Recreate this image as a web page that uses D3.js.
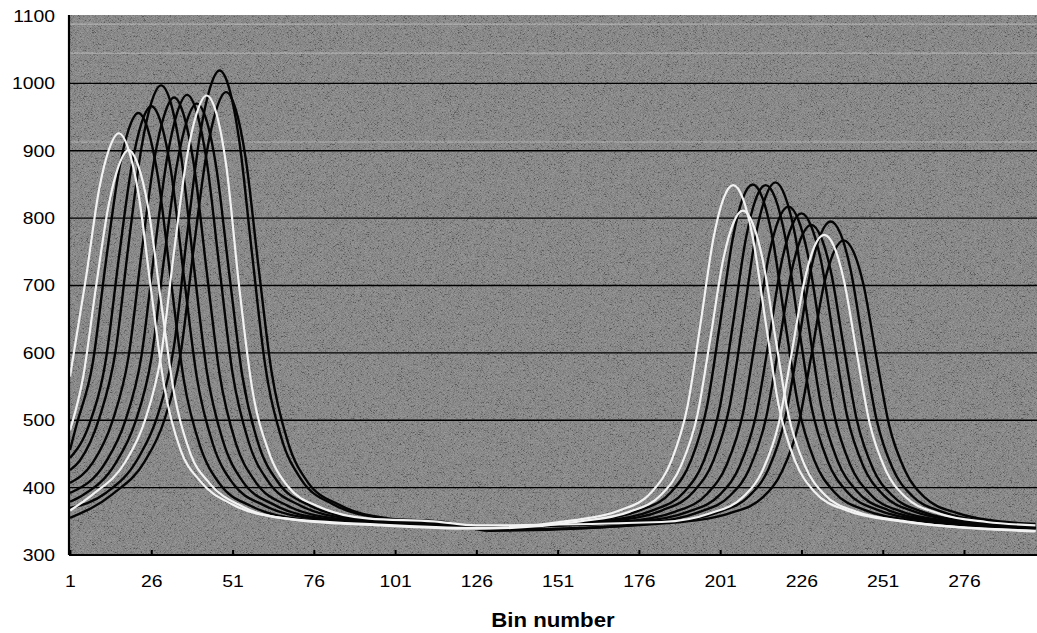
<!DOCTYPE html>
<html>
<head>
<meta charset="utf-8">
<script src="https://cdn.jsdelivr.net/npm/d3@7"></script>
<style>
  body { margin: 0; background: #fff; }
  svg { display: block; font-family: "Liberation Sans", Arial, sans-serif; }
</style>
</head>
<body>
<div id="chart"></div>
<script>
// axis ticks
var xTicks = [1, 26, 51, 76, 101, 126, 151, 176, 201, 226, 251, 276];
var yTicks = [300, 400, 500, 600, 700, 800, 900, 1000, 1100];
// light scanner streaks across the plot (y units)
var streaks = [1088, 1045, 913];

// spectra, [bin, counts]
var w1 = [[1,565],[6,714],[10,844],[13,902],[16,926],[19,902],[22,838],[26,691],[30,550],[35,456],[41,410],[51,375],[66,355],[96,345],[126,340],[155,351],[170,366],[180,394],[186,440],[191,522],[195,645],[199,772],[202,829],[205,849],[208,829],[211,772],[215,645],[219,522],[224,440],[230,394],[240,366],[255,351],[298,336]];
var w2 = [[1,485],[5,563],[9,698],[13,822],[16,878],[19,901],[22,878],[25,817],[29,676],[33,541],[38,451],[44,406],[54,372],[69,353],[96,344],[126,339],[158,350],[173,364],[183,390],[189,433],[194,508],[198,622],[202,740],[205,792],[208,811],[211,792],[214,740],[218,622],[222,508],[227,433],[233,390],[243,364],[258,350],[298,335]];
var b1 = [[1,456],[3,493],[8,585],[12,734],[16,869],[19,931],[22,956],[25,931],[28,863],[32,709],[36,560],[41,462],[47,406],[57,372],[72,353],[96,347],[126,340],[161,351],[176,366],[186,394],[192,440],[197,522],[201,645],[205,773],[208,830],[211,850],[214,830],[217,773],[221,645],[225,522],[230,440],[236,394],[246,366],[261,351],[298,339]];
var b2 = [[1,444],[7,495],[12,589],[16,740],[20,878],[23,941],[26,966],[29,941],[32,872],[36,715],[40,564],[45,464],[51,407],[61,373],[76,354],[100,346],[126,340],[165,351],[180,366],[190,394],[196,440],[201,522],[205,645],[209,772],[212,829],[215,849],[218,829],[221,772],[225,645],[229,522],[234,440],[240,394],[250,366],[265,351],[298,340]];
var b3 = [[1,426],[4,440],[10,503],[15,602],[19,760],[23,905],[26,971],[29,997],[32,971],[35,898],[39,733],[43,575],[48,470],[54,410],[64,374],[79,354],[100,347],[126,340],[168,351],[183,366],[193,395],[199,441],[204,523],[208,647],[212,776],[215,832],[218,853],[221,832],[224,776],[228,647],[232,523],[237,441],[243,395],[253,366],[268,351],[298,341]];
var b4 = [[1,407],[8,437],[14,498],[19,594],[23,748],[27,889],[30,953],[33,979],[36,953],[39,883],[43,723],[47,569],[52,466],[58,409],[68,373],[83,354],[104,347],[126,341],[172,350],[187,364],[197,391],[203,434],[208,510],[212,625],[216,745],[219,798],[222,817],[225,798],[228,745],[232,625],[236,510],[241,434],[247,391],[257,364],[272,350],[298,341]];
var b5 = [[1,392],[12,438],[18,499],[23,596],[27,751],[31,893],[34,957],[37,983],[40,957],[43,886],[47,725],[51,570],[56,467],[62,409],[72,373],[87,354],[108,347],[126,342],[176,350],[191,364],[201,390],[207,432],[212,507],[216,619],[220,737],[223,788],[226,807],[229,788],[232,737],[236,619],[240,507],[245,432],[251,390],[261,364],[276,350],[298,342]];
var b6 = [[1,379],[5,389],[15,436],[21,496],[26,591],[30,742],[34,882],[37,945],[40,970],[43,945],[46,875],[50,717],[54,566],[59,464],[65,408],[75,373],[90,354],[110,347],[126,342],[179,349],[194,363],[204,388],[210,428],[215,501],[219,609],[223,722],[226,772],[229,790],[232,772],[235,722],[239,609],[243,501],[248,428],[254,388],[264,363],[279,349],[298,343]];
var w3 = [[1,366],[8,390],[18,438],[24,499],[29,596],[33,750],[37,892],[40,956],[43,982],[46,956],[49,880],[53,700],[57,548],[62,455],[68,402],[78,371],[93,354],[113,350],[126,344],[183,349],[198,362],[208,386],[214,425],[219,495],[223,600],[227,709],[230,758],[233,775],[236,758],[239,709],[243,600],[247,495],[252,425],[258,386],[268,362],[283,349],[298,344]];
var b7 = [[1,370],[12,392],[22,444],[28,508],[33,610],[37,774],[41,924],[44,992],[47,1019],[50,992],[53,917],[57,747],[61,583],[66,474],[72,413],[82,375],[97,355],[116,349],[130,336],[185,349],[200,363],[210,388],[216,429],[221,503],[225,612],[229,726],[232,777],[235,795],[238,777],[241,726],[245,612],[249,503],[254,429],[260,388],[270,363],[285,349],[298,345]];
var b8 = [[1,355],[14,390],[24,439],[30,500],[35,598],[39,753],[43,896],[46,961],[49,987],[52,961],[55,890],[59,727],[63,572],[68,468],[74,409],[84,374],[99,354],[118,346],[135,338],[189,349],[204,362],[214,385],[220,424],[225,492],[229,595],[233,703],[236,750],[239,767],[242,750],[245,703],[249,595],[253,492],[258,424],[264,385],[274,362],[289,349],[298,346]];

var spectra = [w1, w2, b1, b2, b3, b4, b5, b6, w3, b7, b8];
var tones = ['light', 'light', 'dark', 'dark', 'dark', 'dark', 'dark', 'dark', 'light', 'dark', 'dark'];

var width = 1037, height = 633;
var plot = { left: 69, right: 1037, top: 15, bottom: 555 };
var stretch = 1.14; // scanned lettering is wider than Arial

var svg = d3.select('#chart')
  .append('svg')
  .attr('width', width)
  .attr('height', height);

// scales, calibrated on the tick labels
var x = d3.scaleLinear().domain([1, 276]).range([70, 964]);
var y = d3.scaleLinear().domain([300, 1100]).range([555, 16]);

//grain filter for the scanned grey
var defs = svg.append('defs');
var grain = defs.append('filter')
  .attr('id', 'grain')
  .attr('x', 0).attr('y', 0).attr('width', '100%').attr('height', '100%');
grain.append('feTurbulence')
  .attr('type', 'fractalNoise')
  .attr('baseFrequency', '0.7 1.5')
  .attr('numOctaves', 2)
  .attr('seed', 7)
  .attr('result', 'noise');
grain.append('feColorMatrix')
  .attr('type', 'matrix')
  .attr('values', '1 0 0 0 0  1 0 0 0 0  1 0 0 0 0  0 0 0 0 1');
var ct = grain.append('feComponentTransfer');
['feFuncR', 'feFuncG', 'feFuncB'].forEach(function (f) {
  ct.append(f).attr('type', 'linear').attr('slope', 2).attr('intercept', -0.5);
});

defs.append('clipPath')
  .attr('id', 'plot-clip')
  .append('rect')
  .attr('x', plot.left)
  .attr('y', plot.top)
  .attr('width', plot.right - plot.left)
  .attr('height', plot.bottom - plot.top);

//background
svg.append('rect')
  .attr('x', plot.left)
  .attr('y', plot.top)
  .attr('width', plot.right - plot.left)
  .attr('height', plot.bottom - plot.top)
  .attr('fill', '#787878');
svg.append('rect')
  .attr('x', plot.left)
  .attr('y', plot.top)
  .attr('width', plot.right - plot.left)
  .attr('height', plot.bottom - plot.top)
  .attr('filter', 'url(#grain)')
  .attr('opacity', 0.25);

// streaks
svg.append('g')
  .selectAll('line')
  .data(streaks)
  .enter()
  .append('line')
  .attr('x1', plot.left)
  .attr('x2', plot.right)
  .attr('y1', function (d) { return y(d); })
  .attr('y2', function (d) { return y(d); })
  .attr('stroke', '#d8d8d8')
  .attr('stroke-opacity', 0.5)
  .attr('stroke-width', 1.2);

//gridlines
svg.append('g')
  .selectAll('line')
  .data(yTicks.filter(function (d) { return d > 300 && d < 1100; }))
  .enter()
  .append('line')
  .attr('x1', plot.left)
  .attr('x2', plot.right)
  .attr('y1', function (d) { return y(d); })
  .attr('y2', function (d) { return y(d); })
  .attr('stroke', '#000')
  .attr('stroke-width', 1.4);

//lines
var line = d3.line()
  .x(function (d) { return x(d[0]); })
  .y(function (d) { return y(d[1]); })
  .curve(d3.curveMonotoneX);

var order = d3.range(spectra.length).sort(function (a, b) {
  return (tones[a] === 'light') - (tones[b] === 'light');
});

svg.append('g')
  .attr('class', 'spectra')
  .attr('clip-path', 'url(#plot-clip)')
  .selectAll('path')
  .data(order)
  .enter()
  .append('path')
  .attr('d', function (i) { return line(spectra[i]); })
  .attr('fill', 'none')
  .attr('stroke', function (i) { return tones[i] === 'light' ? '#f2f2f2' : '#050505'; })
  .attr('stroke-width', function (i) { return tones[i] === 'light' ? 2.2 : 2.4; })
  .attr('stroke-linejoin', 'round');

//x axis
var axisX = d3.axisBottom(x)
  .tickValues(xTicks)
  .tickSize(-5)
  .tickPadding(20)
  .tickFormat(d3.format('d'));

var gx = svg.append('g')
  .attr('transform', 'translate(0,' + plot.bottom + ')')
  .call(axisX);
gx.select('.domain')
  .attr('d', 'M' + plot.left + ',0H' + plot.right)
  .attr('stroke', '#000')
  .attr('stroke-width', 2.2);
gx.selectAll('.tick line').attr('stroke', '#000').attr('stroke-width', 2);
gx.selectAll('.tick text')
  .attr('font-size', 17)
  .attr('font-family', '"Liberation Sans", Arial, sans-serif')
  .attr('fill', '#000')
  .attr('transform', 'scale(' + stretch + ',1)');

//y axis
var axisY = d3.axisLeft(y)
  .tickValues(yTicks)
  .tickSize(0)
  .tickPadding(14)
  .tickFormat(d3.format('d'));

var gy = svg.append('g')
  .attr('transform', 'translate(' + plot.left + ',0)')
  .call(axisY);
gy.select('.domain')
  .attr('d', 'M0,' + plot.top + 'V' + plot.bottom)
  .attr('stroke', '#000')
  .attr('stroke-width', 2.2);
gy.selectAll('.tick text')
  .attr('font-size', 17)
  .attr('font-family', '"Liberation Sans", Arial, sans-serif')
  .attr('fill', '#000')
  .attr('x', -14 / stretch)
  .attr('transform', 'scale(' + stretch + ',1)');

//axis title
svg.append('text')
  .attr('x', 553 / stretch)
  .attr('y', 627)
  .attr('transform', 'scale(' + stretch + ',1)')
  .attr('text-anchor', 'middle')
  .attr('font-size', 19.5)
  .attr('font-weight', 'bold')
  .text('Bin number');
</script>
</body>
</html>
